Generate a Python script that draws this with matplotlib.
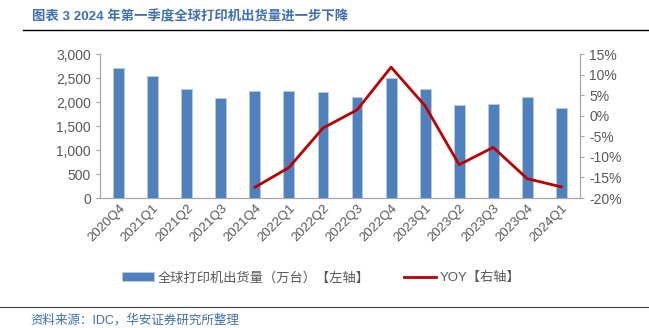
import numpy as np
import matplotlib.pyplot as plt
from matplotlib.ticker import FuncFormatter, MultipleLocator

plt.rcParams['font.family'] = ['Liberation Sans', 'Noto Sans CJK SC', 'DejaVu Sans']

quarters = ['2020Q4', '2021Q1', '2021Q2', '2021Q3', '2021Q4', '2022Q1', '2022Q2',
            '2022Q3', '2022Q4', '2023Q1', '2023Q2', '2023Q3', '2023Q4', '2024Q1']
shipments = [2700, 2550, 2280, 2090, 2230, 2220, 2210, 2110, 2490, 2280, 1940, 1950, 2100, 1875]
yoy_quarters = quarters[4:]
yoy = [-17.4, -12.6, -3.0, 1.4, 11.8, 2.4, -11.9, -7.7, -15.3, -17.3]

gray = '#595959'
blue = '#4f81bd'
red = '#c00000'

fig = plt.figure(figsize=(6.49, 3.28), dpi=100, facecolor='white')
ax = fig.add_axes((100/649, 1-198/328, 480/649, 144/328))
x = np.arange(len(quarters))
ax.bar(x, shipments, width=0.32, color=blue, edgecolor='#b8cce4', linewidth=0.6,
       label='全球打印机出货量（万台）【左轴】')
ax.set_xlim(-0.55, len(quarters) - 0.45)
ax.set_ylim(0, 3000)
ax.yaxis.set_major_locator(MultipleLocator(500))
ax.yaxis.set_major_formatter(FuncFormatter(lambda v, p: f'{int(v):,}'))
ax.set_xticks(x)
ax.set_xticklabels(quarters, rotation=45, ha='right', rotation_mode='anchor')

ax2 = ax.twinx()
xi = [quarters.index(q) for q in yoy_quarters]
ax2.plot(xi, yoy, color=red, linewidth=2, label='YOY【右轴】')
ax2.set_ylim(-20, 15)
ax2.yaxis.set_major_locator(MultipleLocator(5))
ax2.yaxis.set_major_formatter(FuncFormatter(lambda v, p: f'{int(round(v))}%'))

for a in (ax, ax2):
    a.spines['top'].set_visible(False)
    for s in ('left', 'right', 'bottom'):
        a.spines[s].set_color('#a6a6a6')
    a.tick_params(colors=gray, labelsize=10, length=3, color='#a6a6a6')
ax.tick_params(axis='x', length=0, labelsize=9.5, pad=3)

h1, l1 = ax.get_legend_handles_labels()
h2, l2 = ax2.get_legend_handles_labels()
fig.legend(h1 + h2, l1 + l2, loc='center', bbox_to_anchor=(0.495, 1-278/328), ncol=2,
           frameon=False, fontsize=9.5, labelcolor=gray, handlelength=2.4,
           columnspacing=2.6, handletextpad=0.3)

fig.text(32/649, 1-17/328, '图表 3 2024 年第一季度全球打印机出货量进一步下降', color='#3f6fb5',
         fontsize=9.6, fontweight='bold', va='center')
fig.add_artist(plt.Line2D([23/649, 1], [1-30/328, 1-30/328], color='black', linewidth=1))
fig.add_artist(plt.Line2D([0, 1], [1-307/328, 1-307/328], color='#404040', linewidth=0.8))
fig.text(30/649, 1-320/328, '资料来源：IDC，华安证券研究所整理', color='#3f6fb5',
         fontsize=9, va='center')

fig.savefig('out.png')
